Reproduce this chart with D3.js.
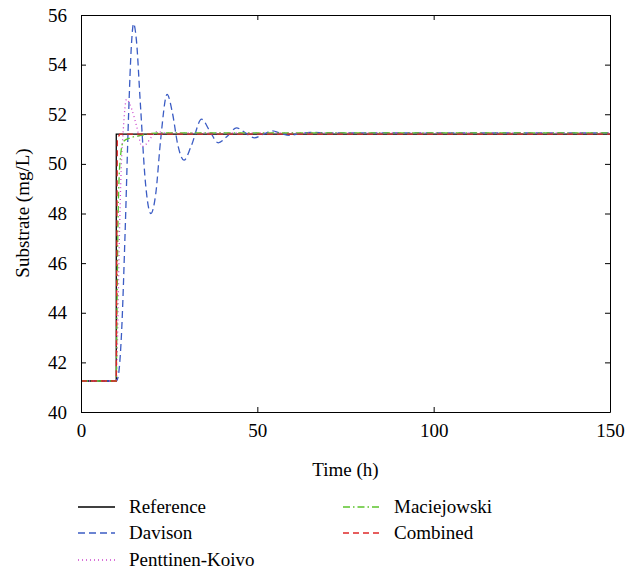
<html>
<head>
	<meta charset="utf-8">
	<script src="https://d3js.org/d3.v7.min.js"></script>
	<style>
		body { margin: 0; background: white; }
		svg text { font-family: "Liberation Serif", Tinos, "Times New Roman", "DejaVu Serif", serif !important; fill: black; }
	</style>
</head>
<body>
	<div id="output"></div>
	<script>
		// values (time in h, substrate in mg/L)
		var refT = [0, 10, 10, 150];
		var refV = [41.25, 41.25, 51.2, 51.2];

		var davT = [0, 10, 10.5, 11.5, 12.5, 13.5, 14.3, 14.9, 15.7, 16.8, 18.3, 19.8, 21.2, 22.6, 24.4, 26, 27.4, 29.2, 31.2, 34.2, 36.6, 38.9, 41.4, 44.1, 46.6, 49.2, 51.8, 54.3, 56.8, 59.3, 62, 65, 70, 150];
		var davV = [41.25, 41.25, 41.4, 43.2, 47.2, 52.0, 54.8, 55.65, 55.0, 52.5, 49.2, 48.0, 48.8, 51.0, 52.8, 52.0, 50.8, 50.15, 50.7, 51.8, 51.3, 50.85, 51.1, 51.45, 51.25, 51.05, 51.2, 51.33, 51.22, 51.15, 51.22, 51.27, 51.25, 51.25];

		var pkT = [0, 10, 10.3, 10.8, 11.4, 12, 12.9, 14.4, 15.8, 17.3, 18.5, 19.8, 21.5, 24, 150];
		var pkV = [41.25, 41.25, 42.5, 46.5, 49.8, 51.4, 52.6, 52.2, 51.5, 50.7, 50.8, 51.05, 51.3, 51.25, 51.25];

		var macT = [0, 10, 10.2, 10.6, 11.2, 12, 14, 17, 22, 150];
		var macV = [41.25, 41.25, 44, 48.5, 50.3, 50.9, 51.05, 51.15, 51.25, 51.25];

		var comT = [0, 10, 10.3, 11, 150];
		var comV = [41.25, 41.25, 51.0, 51.2, 51.2];

		var names = ["Reference", "Davison", "Penttinen-Koivo", "Maciejowski", "Combined"];
		var colors = ["#000000", "#3b5cc4", "#cc44cc", "#5cc42c", "#e02828"];
		var dashes = ["none", "7,4", "1,3", "7,3,1.5,3", "6,4"];
		var xTicks = [0, 50, 100, 150];
		var yTicks = [40, 42, 44, 46, 48, 50, 52, 54, 56];

		var plotL = 81, plotR = 610, plotT = 15, plotB = 412;

		var svg = d3.select("#output")
			.append("svg")
			.attr("width", 639)
			.attr("height", 573);

		var x = d3.scaleLinear().domain([0, 150]).range([plotL, plotR]);
		var y = d3.scaleLinear().domain([40, 56]).range([plotB, plotT]);

		svg.append("clipPath").attr("id", "clip")
			.append("rect")
			.attr("x", plotL).attr("y", plotT)
			.attr("width", plotR - plotL).attr("height", plotB - plotT);

		// series
		var series = [
			{t: refT, v: refV, curve: d3.curveLinear},
			{t: davT, v: davV, curve: d3.curveMonotoneX},
			{t: pkT, v: pkV, curve: d3.curveMonotoneX},
			{t: macT, v: macV, curve: d3.curveMonotoneX},
			{t: comT, v: comV, curve: d3.curveLinear}
		];
		var g = svg.append("g").attr("clip-path", "url(#clip)");
		series.forEach(function(s, i){
			var pts = s.t.map(function(t, k){ return [t, s.v[k]]; });
			var line = d3.line()
				.x(function(d){ return x(d[0]); })
				.y(function(d){ return y(d[1]); })
				.curve(s.curve);
			g.append("path")
				.attr("d", line(pts))
				.attr("fill", "none")
				.attr("stroke", colors[i])
				.attr("stroke-width", 1.3)
				.attr("stroke-dasharray", dashes[i]);
		});

		// axes, matlab style box with inward ticks
		var tickLen = 5;
		svg.append("g")
			.attr("transform", "translate(0," + plotB + ")")
			.call(d3.axisBottom(x).tickValues(xTicks).tickSizeInner(-tickLen).tickSizeOuter(0).tickPadding(12));
		svg.append("g")
			.attr("transform", "translate(0," + plotT + ")")
			.call(d3.axisTop(x).tickValues(xTicks).tickSizeInner(-tickLen).tickSizeOuter(0).tickFormat(""));
		svg.append("g")
			.attr("transform", "translate(" + plotL + ",0)")
			.call(d3.axisLeft(y).tickValues(yTicks).tickSizeInner(-tickLen).tickSizeOuter(0).tickPadding(14));
		svg.append("g")
			.attr("transform", "translate(" + plotR + ",0)")
			.call(d3.axisRight(y).tickValues(yTicks).tickSizeInner(-tickLen).tickSizeOuter(0).tickFormat(""));
		svg.selectAll("g").attr("font-family", null);
		svg.selectAll(".domain").attr("stroke", "black");
		svg.selectAll(".tick line").attr("stroke", "black");
		svg.selectAll(".tick text")
			.style("font-size", "19px")
			.attr("fill", "black");

		// axis titles
		svg.append("text")
			.attr("x", (plotL + plotR) / 2)
			.attr("y", 476)
			.style("font-size", "19px")
			.style("text-anchor", "middle")
			.text("Time (h)");
		svg.append("text")
			.attr("transform", "translate(29,213) rotate(-90)")
			.style("font-size", "19px")
			.style("text-anchor", "middle")
			.text("Substrate (mg/L)");

		// legend
		var legX = [78, 343];
		var legY = [507, 533, 560];
		names.forEach(function(n, i){
			var col = i < 3 ? 0 : 1;
			var row = i < 3 ? i : i - 3;
			var ly = legY[row];
			svg.append("line")
				.attr("x1", legX[col]).attr("x2", legX[col] + 37)
				.attr("y1", ly).attr("y2", ly)
				.attr("stroke", colors[i])
				.attr("stroke-width", 1.3)
				.attr("stroke-dasharray", dashes[i]);
			svg.append("text")
				.attr("x", legX[col] + 51)
				.attr("y", ly + 6)
				.style("font-size", "19px")
				.text(n);
		});
	</script>
</body>
</html>
